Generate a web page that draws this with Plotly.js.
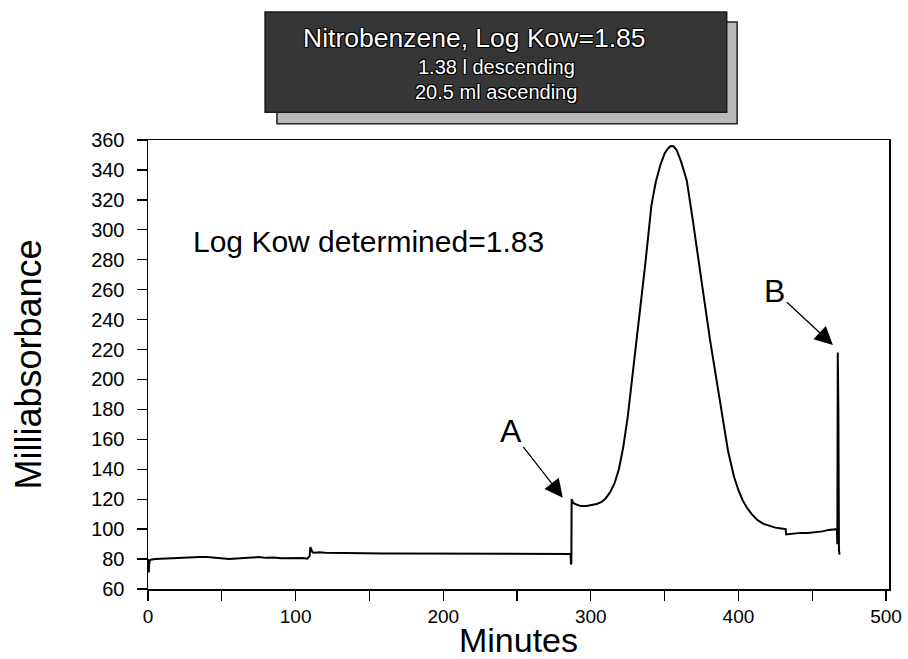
<!DOCTYPE html>
<html>
<head>
<meta charset="utf-8">
<script src="https://cdn.plot.ly/plotly-3.0.1.min.js"></script>
<style>html,body{margin:0;padding:0;background:#fff;}#chart{width:908px;height:659px;}</style>
</head>
<body>
<div id="chart"></div>
<script>
// Chromatogram trace (minutes vs milliabsorbance)
const minutes = [
  0, 0.2, 0.5, 0.8, 1.5, 5, 10, 15, 20, 25, 30, 35, 40, 45, 50, 55, 60, 65, 70, 75, 80, 85, 90, 95, 100, 105, 108,
  109.5, 110, 110.6, 111.5, 113, 116, 120, 130, 140, 150, 160, 170, 180, 190, 200, 210, 220, 230, 240, 250, 260, 270, 280, 284, 286.3,
  286.5, 286.8, 287, 287.5, 288, 290, 293, 297, 301, 304, 307, 310, 313, 316, 319, 322, 325, 329, 333, 337, 341, 344, 347, 350, 352, 354,
  356, 358, 361, 365, 369, 373, 377, 381, 385, 389, 393, 397, 400, 403, 406, 409, 413, 417, 421, 425, 429, 432,
  432.3, 437, 442, 447, 452, 457, 461, 465, 466.7, 467, 467.3, 467.7, 468.1, 468.5
];
const milliabsorbance = [
  80, 74, 71, 77, 79.5, 80, 80.3, 80.5, 80.8, 81, 81.3, 81.4, 81.3, 81, 80.5, 80, 80.3, 80.8, 81.2, 81.3, 80.8, 81, 80.6, 80.8, 80.5, 80.7, 80.3,
  82, 88, 86, 84.5, 84.3, 84.5, 84.2, 84, 83.9, 83.8, 83.8, 83.7, 83.7, 83.6, 83.6, 83.5, 83.6, 83.5, 83.5, 83.4, 83.5, 83.4, 83.4, 83.4, 83.4,
  77, 76.5, 120, 118, 117.5, 116.5, 115.5, 115.5, 116, 116.8, 118, 120.5, 124.5, 130.5, 140, 155, 175, 209, 240, 278, 316, 332, 343, 351, 354, 356,
  355.8, 353.5, 346, 333, 307, 281, 252, 225, 200, 175, 152, 135, 126, 119, 114, 110, 106, 103.5, 102, 101, 100.5, 100,
  96.5, 97, 97.5, 97.5, 98, 98.5, 99.5, 99.5, 100, 90, 218, 180, 86, 83
];
const xTickVals = [0, 100, 200, 300, 400, 500];
const yTickVals = [60, 80, 100, 120, 140, 160, 180, 200, 220, 240, 260, 280, 300, 320, 340, 360];

const titleLines = ["Nitrobenzene, Log Kow=1.85", "1.38 l descending", "20.5 ml ascending"];
const noteText = "Log Kow determined=1.83";
const markA = {label: "A", x: 281, y: 121};
const markB = {label: "B", x: 464, y: 223};

const FONT = "Arial, 'Liberation Sans', Helvetica, sans-serif";
const outline = "1px 1px 0px #000, -1px -1px 0px #000, 1px -1px 0px #000, -1px 1px 0px #000";

const trace = {
  x: minutes, y: milliabsorbance, type: "scatter", mode: "lines",
  line: {color: "#000", width: 2}, hoverinfo: "skip", showlegend: false
};

const layout = {
  width: 908, height: 659,
  margin: {l: 148, r: 19, t: 140, b: 70},
  paper_bgcolor: "#fff", plot_bgcolor: "#fff",
  font: {family: FONT, color: "#000"},
  showlegend: false,
  xaxis: {
    range: [0, 502], tickvals: xTickVals, ticks: "outside", ticklen: 10, tickwidth: 1.3, tickcolor: "#000",
    minor: {dtick: 50, tick0: 0, ticks: "outside", ticklen: 10, tickwidth: 1.3, tickcolor: "#000"},
    showline: true, linecolor: "#000", linewidth: 1.5, mirror: true,
    showgrid: false, zeroline: false, automargin: false,
    tickfont: {size: 19, family: FONT, color: "#000"},
    title: {text: "Minutes", font: {size: 34, family: FONT, color: "#000"}, standoff: 0}
  },
  yaxis: {
    range: [60, 360], tickvals: yTickVals, ticks: "outside", ticklen: 10, tickwidth: 1.3, tickcolor: "#000",
    showline: true, linecolor: "#000", linewidth: 1.5, mirror: true,
    showgrid: false, zeroline: false, automargin: false,
    ticklabelposition: "outside", ticklabelstandoff: 8,
    tickfont: {size: 20, family: FONT, color: "#000"},
    title: {text: "Milliabsorbance", font: {size: 36, family: FONT, color: "#000"}, standoff: 38}
  },
  shapes: [
    {type: "rect", xref: "paper", yref: "paper", x0: 0.174, x1: 0.795, y0: 1.036, y1: 1.263,
     fillcolor: "#b9b9b9", line: {color: "#222", width: 1.5}, layer: "above"},
    {type: "rect", xref: "paper", yref: "paper", x0: 0.158, x1: 0.781, y0: 1.062, y1: 1.285,
     fillcolor: "#363636", line: {color: "#1a1a1a", width: 1.5}, layer: "above"}
  ],
  annotations: [
    {text: titleLines[0], xref: "paper", yref: "paper", x: 0.44, y: 1.227, xanchor: "center", yanchor: "middle", showarrow: false,
     font: {size: 26.5, family: FONT, color: "#fff", shadow: outline}},
    {text: titleLines[1], xref: "paper", yref: "paper", x: 0.47, y: 1.162, xanchor: "center", yanchor: "middle", showarrow: false,
     font: {size: 20, family: FONT, color: "#fff", shadow: outline}},
    {text: titleLines[2], xref: "paper", yref: "paper", x: 0.47, y: 1.106, xanchor: "center", yanchor: "middle", showarrow: false,
     font: {size: 20, family: FONT, color: "#fff", shadow: outline}},
    {text: noteText, xref: "paper", yref: "paper", x: 0.297, y: 0.773, xanchor: "center", yanchor: "middle", showarrow: false,
     font: {size: 30, family: FONT, color: "#000"}},
    {text: markA.label, x: markA.x, y: markA.y, xref: "x", yref: "y", ax: -52, ay: -67,
     showarrow: true, arrowhead: 2, arrowsize: 2.8, arrowwidth: 1.3, arrowcolor: "#000", standoff: 0,
     font: {size: 32, family: FONT, color: "#000"}},
    {text: markB.label, x: markB.x, y: markB.y, xref: "x", yref: "y", ax: -58, ay: -54,
     showarrow: true, arrowhead: 2, arrowsize: 2.8, arrowwidth: 1.3, arrowcolor: "#000", standoff: 0,
     font: {size: 32, family: FONT, color: "#000"}}
  ]
};

Plotly.newPlot("chart", [trace], layout, {staticPlot: true, displayModeBar: false});
</script>
</body>
</html>
